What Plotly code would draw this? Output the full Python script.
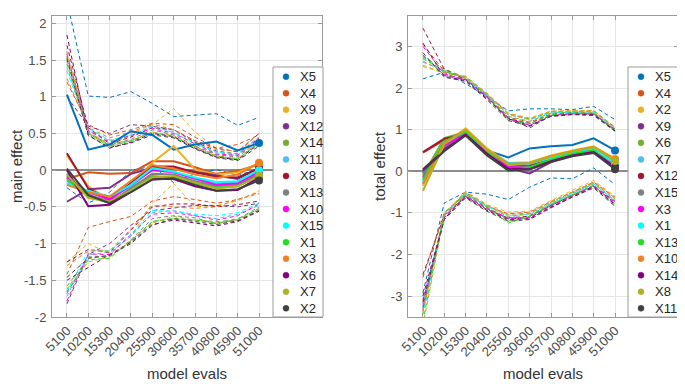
import plotly.graph_objects as go

# ---------------- data ----------------
evals = ["5100", "10200", "15300", "20400", "25500", "30600", "35700", "40800", "45900", "51000"]

colors = ["#0072BD", "#D95319", "#EDB120", "#7E2F8E", "#77AC30", "#4DBEEE", "#A2142F",
          "#808080", "#FF00FF", "#00FFFF", "#22DD22", "#F08020", "#800080", "#B0B020", "#404040"]

# ---- main effect (left panel) ----
me_names = ["X5", "X4", "X9", "X12", "X14", "X11", "X8", "X13", "X10", "X15", "X1", "X3", "X6", "X7", "X2"]
me_mean = [
    [1.03, 0.28, 0.35, 0.53, 0.48, 0.28, 0.35, 0.39, 0.27, 0.37],
    [-0.12, -0.03, -0.05, -0.04, 0.12, 0.12, 0.04, -0.05, -0.01, 0.08],
    [0.20, -0.22, -0.41, -0.20, 0.10, 0.33, 0.01, -0.06, -0.03, 0.09],
    [-0.43, -0.26, -0.24, -0.05, 0.03, 0.02, -0.02, -0.07, -0.12, 0.03],
    [-0.05, -0.35, -0.42, -0.28, -0.08, -0.10, -0.17, -0.20, -0.21, -0.06],
    [-0.15, -0.30, -0.38, -0.22, 0.02, -0.02, -0.12, -0.18, -0.16, -0.03],
    [0.23, -0.25, -0.40, -0.18, 0.05, 0.05, -0.03, -0.09, -0.10, 0.02],
    [-0.08, -0.33, -0.44, -0.25, -0.05, -0.06, -0.15, -0.22, -0.20, -0.05],
    [-0.10, -0.30, -0.40, -0.20, 0.00, -0.03, -0.12, -0.20, -0.18, -0.02],
    [-0.18, -0.28, -0.36, -0.20, 0.03, -0.02, -0.10, -0.16, -0.15, 0.00],
    [-0.12, -0.36, -0.45, -0.27, -0.10, -0.10, -0.18, -0.24, -0.22, -0.08],
    [-0.20, -0.30, -0.36, -0.15, 0.07, 0.02, -0.06, -0.11, -0.06, 0.10],
    [0.00, -0.49, -0.47, -0.30, -0.12, -0.12, -0.22, -0.28, -0.27, -0.10],
    [-0.06, -0.38, -0.43, -0.28, -0.10, -0.08, -0.17, -0.25, -0.22, -0.08],
    [0.02, -0.34, -0.45, -0.30, -0.13, -0.11, -0.20, -0.28, -0.26, -0.14],
]
me_upper = [
    [2.30, 1.01, 0.99, 1.07, 0.91, 0.73, 0.75, 0.77, 0.61, 0.72],
    [1.20, 0.62, 0.48, 0.55, 0.64, 0.62, 0.45, 0.30, 0.35, 0.48],
    [1.62, 0.55, 0.32, 0.50, 0.62, 0.84, 0.52, 0.30, 0.25, 0.45],
    [1.00, 0.60, 0.50, 0.62, 0.60, 0.55, 0.40, 0.30, 0.25, 0.50],
    [1.50, 0.50, 0.36, 0.40, 0.52, 0.45, 0.32, 0.20, 0.15, 0.38],
    [1.40, 0.55, 0.40, 0.46, 0.60, 0.52, 0.36, 0.24, 0.20, 0.42],
    [1.70, 0.58, 0.36, 0.45, 0.58, 0.55, 0.38, 0.26, 0.22, 0.44],
    [1.55, 0.52, 0.34, 0.42, 0.55, 0.48, 0.33, 0.21, 0.18, 0.40],
    [1.58, 0.54, 0.38, 0.47, 0.57, 0.50, 0.36, 0.22, 0.20, 0.43],
    [1.35, 0.57, 0.41, 0.48, 0.60, 0.51, 0.37, 0.25, 0.22, 0.45],
    [1.45, 0.50, 0.33, 0.40, 0.50, 0.45, 0.30, 0.18, 0.15, 0.37],
    [1.25, 0.58, 0.44, 0.52, 0.63, 0.55, 0.40, 0.28, 0.26, 0.50],
    [1.84, 0.48, 0.30, 0.38, 0.50, 0.46, 0.30, 0.18, 0.14, 0.36],
    [1.60, 0.50, 0.32, 0.40, 0.52, 0.47, 0.32, 0.19, 0.16, 0.38],
    [1.52, 0.47, 0.31, 0.37, 0.48, 0.44, 0.29, 0.17, 0.13, 0.33],
]
me_lower = [
    [-0.24, -0.45, -0.30, 0.00, 0.05, -0.17, -0.05, 0.01, -0.07, 0.02],
    [-1.42, -0.78, -0.70, -0.63, -0.42, -0.36, -0.40, -0.45, -0.40, -0.30],
    [-1.25, -1.00, -1.14, -0.90, -0.45, -0.18, -0.50, -0.48, -0.42, -0.28],
    [-1.82, -1.15, -1.00, -0.75, -0.55, -0.52, -0.48, -0.48, -0.50, -0.45],
    [-1.58, -1.20, -1.16, -0.98, -0.70, -0.66, -0.68, -0.70, -0.68, -0.52],
    [-1.72, -1.15, -1.12, -0.90, -0.58, -0.55, -0.62, -0.66, -0.60, -0.48],
    [-1.25, -1.08, -1.12, -0.82, -0.50, -0.46, -0.46, -0.50, -0.47, -0.42],
    [-1.68, -1.18, -1.18, -0.95, -0.66, -0.62, -0.65, -0.73, -0.67, -0.50],
    [-1.78, -1.14, -1.15, -0.88, -0.60, -0.58, -0.62, -0.68, -0.62, -0.46],
    [-1.65, -1.10, -1.10, -0.88, -0.55, -0.56, -0.60, -0.62, -0.58, -0.45],
    [-1.66, -1.22, -1.20, -0.96, -0.70, -0.66, -0.68, -0.72, -0.66, -0.53],
    [-1.30, -1.10, -1.10, -0.80, -0.48, -0.50, -0.52, -0.50, -0.40, -0.32],
    [-1.50, -1.32, -1.15, -0.98, -0.74, -0.68, -0.72, -0.76, -0.70, -0.56],
    [-1.62, -1.25, -1.18, -0.96, -0.72, -0.63, -0.68, -0.72, -0.68, -0.54],
    [-1.46, -1.20, -1.16, -1.00, -0.75, -0.66, -0.70, -0.74, -0.69, -0.55],
]

# ---- total effect (right panel) ----
te_names = ["X5", "X4", "X2", "X9", "X6", "X7", "X12", "X15", "X3", "X1", "X13", "X10", "X14", "X8", "X11"]
te_mean = [
    [-0.05, 0.60, 0.90, 0.50, 0.33, 0.55, 0.60, 0.63, 0.79, 0.50],
    [0.45, 0.75, 0.90, 0.48, 0.12, 0.14, 0.30, 0.45, 0.55, 0.20],
    [-0.35, 0.65, 1.03, 0.55, 0.20, 0.22, 0.38, 0.50, 0.60, 0.30],
    [0.00, 0.55, 0.92, 0.45, 0.08, -0.05, 0.22, 0.38, 0.48, 0.15],
    [-0.10, 0.80, 0.95, 0.50, 0.05, 0.12, 0.30, 0.45, 0.55, 0.20],
    [-0.30, 0.75, 0.93, 0.50, 0.15, 0.18, 0.32, 0.45, 0.56, 0.22],
    [0.46, 0.78, 0.88, 0.45, 0.10, 0.12, 0.28, 0.42, 0.50, 0.15],
    [-0.05, 0.60, 0.90, 0.45, 0.10, 0.10, 0.28, 0.42, 0.50, 0.12],
    [-0.15, 0.62, 0.90, 0.48, 0.10, 0.08, 0.26, 0.40, 0.50, 0.14],
    [-0.25, 0.70, 0.95, 0.50, 0.20, 0.20, 0.32, 0.45, 0.55, 0.18],
    [-0.20, 0.72, 0.95, 0.50, 0.00, 0.10, 0.28, 0.42, 0.50, 0.10],
    [-0.30, 0.68, 1.00, 0.52, 0.18, 0.20, 0.36, 0.48, 0.58, 0.28],
    [0.05, 0.50, 0.88, 0.42, 0.06, 0.05, 0.24, 0.38, 0.46, 0.10],
    [-0.47, 0.65, 1.00, 0.52, 0.15, 0.20, 0.35, 0.48, 0.58, 0.25],
    [0.02, 0.48, 0.86, 0.38, 0.02, 0.05, 0.22, 0.36, 0.44, 0.05],
]
te_upper = [
    [2.22, 2.38, 2.10, 1.80, 1.45, 1.50, 1.50, 1.48, 1.56, 1.24],
    [3.05, 2.40, 2.22, 1.82, 1.30, 1.18, 1.38, 1.42, 1.40, 1.00],
    [2.55, 2.36, 2.28, 1.88, 1.40, 1.28, 1.45, 1.46, 1.46, 1.06],
    [2.80, 2.30, 2.20, 1.78, 1.28, 1.04, 1.34, 1.38, 1.38, 0.98],
    [2.75, 2.46, 2.25, 1.85, 1.32, 1.20, 1.40, 1.42, 1.42, 1.02],
    [2.62, 2.42, 2.24, 1.84, 1.36, 1.24, 1.42, 1.43, 1.44, 1.04],
    [3.44, 2.45, 2.20, 1.78, 1.26, 1.15, 1.36, 1.40, 1.37, 0.98],
    [2.78, 2.32, 2.21, 1.79, 1.28, 1.14, 1.35, 1.40, 1.38, 0.99],
    [3.00, 2.34, 2.20, 1.80, 1.28, 1.10, 1.34, 1.38, 1.38, 1.00],
    [2.70, 2.40, 2.24, 1.84, 1.38, 1.24, 1.40, 1.42, 1.43, 1.02],
    [2.72, 2.42, 2.23, 1.82, 1.22, 1.14, 1.36, 1.40, 1.38, 0.97],
    [2.65, 2.38, 2.27, 1.86, 1.38, 1.26, 1.44, 1.45, 1.45, 1.06],
    [3.08, 2.28, 2.18, 1.75, 1.26, 1.10, 1.32, 1.37, 1.36, 0.97],
    [2.52, 2.36, 2.28, 1.86, 1.36, 1.26, 1.43, 1.45, 1.46, 1.04],
    [2.85, 2.26, 2.16, 1.72, 1.22, 1.08, 1.32, 1.36, 1.34, 0.96],
]
te_lower = [
    [-2.92, -0.76, -0.50, -0.55, -0.68, -0.38, -0.16, -0.18, 0.08, -0.32],
    [-2.55, -1.00, -0.52, -0.84, -1.02, -0.98, -0.74, -0.50, -0.26, -0.64],
    [-3.30, -1.02, -0.48, -0.80, -0.98, -0.96, -0.70, -0.46, -0.22, -0.60],
    [-3.10, -1.12, -0.60, -0.90, -1.14, -1.12, -0.82, -0.58, -0.34, -0.72],
    [-3.40, -1.00, -0.55, -0.86, -1.20, -1.06, -0.78, -0.54, -0.30, -0.70],
    [-3.20, -1.04, -0.56, -0.84, -1.10, -1.02, -0.76, -0.52, -0.30, -0.68],
    [-2.48, -1.06, -0.60, -0.92, -1.12, -1.08, -0.82, -0.58, -0.36, -0.76],
    [-3.25, -1.08, -0.58, -0.90, -1.12, -1.10, -0.80, -0.56, -0.34, -0.78],
    [-3.30, -1.10, -0.60, -0.88, -1.14, -1.12, -0.84, -0.60, -0.36, -0.74],
    [-3.45, -1.02, -0.54, -0.84, -1.06, -1.04, -0.78, -0.54, -0.30, -0.72],
    [-3.60, -1.00, -0.56, -0.86, -1.24, -1.08, -0.80, -0.56, -0.34, -0.82],
    [-3.35, -1.04, -0.50, -0.82, -1.04, -1.00, -0.72, -0.50, -0.26, -0.62],
    [-3.00, -1.14, -0.62, -0.94, -1.16, -1.14, -0.86, -0.62, -0.38, -0.80],
    [-3.70, -1.06, -0.52, -0.82, -1.08, -1.02, -0.74, -0.50, -0.28, -0.66],
    [-3.15, -1.16, -0.64, -0.96, -1.20, -1.16, -0.88, -0.62, -0.40, -0.84],
]

me_ytick_vals = [-2, -1.5, -1, -0.5, 0, 0.5, 1, 1.5, 2]
me_ytick_text = ["-2", "-1.5", "-1", "-0.5", "0", "0.5", "1", "1.5", "2"]
te_ytick_vals = [-3, -2, -1, 0, 1, 2, 3]
te_ytick_text = ["-3", "-2", "-1", "0", "1", "2", "3"]

# ---------------- figure geometry ----------------
# The page body has an 8 px default margin, so the figure is sized to fill the
# 685x384 window exactly; all positions below are given in window pixels.
OFF = 8
WIN_W, WIN_H = 685, 384
W, H = WIN_W - OFF, WIN_H - OFF
PL, PR, PT, PB = 52, 678, 16, 317       # plot area in window pixels
ML, MR, MT, MB = PL - OFF, W - (PR - OFF), PT - OFF, H - (PB - OFF)
PW, PH = W - ML - MR, H - MT - MB
FONT = "Liberation Sans, Arial, sans-serif"


def px_x(px):
    return (px - PL) / PW


def px_y(py):
    return (PB - py) / PH


fig = go.Figure()


def add_panel(names, mean, upper, lower, xa, ya):
    for k in range(len(names)):
        for band in (upper[k], lower[k]):
            fig.add_trace(go.Scatter(
                x=evals, y=band, mode="lines", xaxis=xa, yaxis=ya,
                line=dict(color=colors[k], width=1, dash="4px,3px"),
                showlegend=False, hoverinfo="skip"))
    for k in range(len(names)):
        fig.add_trace(go.Scatter(
            x=evals, y=mean[k], mode="lines", xaxis=xa, yaxis=ya, name=names[k],
            line=dict(color=colors[k], width=2), showlegend=False))
    for k in range(len(names)):
        fig.add_trace(go.Scatter(
            x=[evals[-1]], y=[mean[k][-1]], mode="markers", xaxis=xa, yaxis=ya,
            name=names[k], marker=dict(color=colors[k], size=8), showlegend=False))


add_panel(me_names, me_mean, me_upper, me_lower, "x", "y")
add_panel(te_names, te_mean, te_upper, te_lower, "x2", "y2")

GRID = "#E6E6E6"
LINE = "#9A9A9A"
TICKFONT = dict(family=FONT, size=13, color="#4D4D4D")
TITLEFONT = dict(family=FONT, size=15, color="#333333")


def xaxis_cfg(dom, anchor):
    return dict(domain=dom, anchor=anchor, type="category", categoryorder="array",
                categoryarray=evals, range=[-0.7, 11.95], tickvals=evals, ticktext=evals,
                tickangle=-45, showgrid=True, gridcolor=GRID, gridwidth=1,
                showline=True, linecolor=LINE, linewidth=1, mirror="ticks",
                ticks="inside", ticklen=4, tickcolor=LINE, tickfont=TICKFONT,
                title=dict(text="model evals", font=TITLEFONT, standoff=10),
                zeroline=False, automargin=False, fixedrange=True)


def yaxis_cfg(rng, vals, text, anchor, title):
    return dict(domain=[0, 1], anchor=anchor, range=rng, tickvals=vals, ticktext=text,
                showgrid=True, gridcolor=GRID, gridwidth=1,
                showline=True, linecolor=LINE, linewidth=1, mirror="ticks",
                ticks="inside", ticklen=4, tickcolor=LINE, tickfont=TICKFONT,
                ticklabelstandoff=2,
                zeroline=True, zerolinecolor="#8C8C8C", zerolinewidth=1.5,
                title=dict(text=title, font=TITLEFONT, standoff=1),
                automargin=False, fixedrange=True)


fig.update_layout(
    width=W, height=H, margin=dict(l=ML, r=MR, t=MT, b=MB, autoexpand=False),
    paper_bgcolor="white", plot_bgcolor="white",
    font=dict(family=FONT),
    showlegend=False,
    xaxis=xaxis_cfg([px_x(52), px_x(322)], "y"),
    yaxis=yaxis_cfg([-2, 2.1], me_ytick_vals, me_ytick_text, "x", "main effect"),
    xaxis2=xaxis_cfg([px_x(408), px_x(678)], "y2"),
    yaxis2=yaxis_cfg([-3.5, 3.73], te_ytick_vals, te_ytick_text, "x2", "total effect"),
)

# ---------------- manual legends (boxes inside the axes, MATLAB style) ----------------
shapes = []
annotations = []


def add_legend(names, left_px):
    top_px, bottom_px, width_px = 67, 317, 50
    shapes.append(dict(type="rect", xref="paper", yref="paper", layer="above",
                       x0=px_x(left_px), x1=px_x(left_px + width_px),
                       y0=px_y(bottom_px), y1=px_y(top_px),
                       fillcolor="white", line=dict(color="#9A9A9A", width=1)))
    step = (308.3 - 76.7) / (len(names) - 1)
    for k, nm in enumerate(names):
        cy = 76.7 + step * k
        mx = left_px + 13
        r = 3
        shapes.append(dict(type="circle", xref="paper", yref="paper", layer="above",
                           x0=px_x(mx - r), x1=px_x(mx + r),
                           y0=px_y(cy + r), y1=px_y(cy - r),
                           fillcolor=colors[k], line=dict(color=colors[k], width=0.5)))
        annotations.append(dict(xref="paper", yref="paper", x=px_x(left_px + 24.5),
                                y=px_y(cy), text=nm, showarrow=False,
                                xanchor="left", yanchor="middle",
                                font=dict(family=FONT, size=13, color="#262626")))


add_legend(me_names, 273)
add_legend(te_names, 628)

fig.update_layout(shapes=shapes, annotations=annotations)

fig.write_html("out.html")
